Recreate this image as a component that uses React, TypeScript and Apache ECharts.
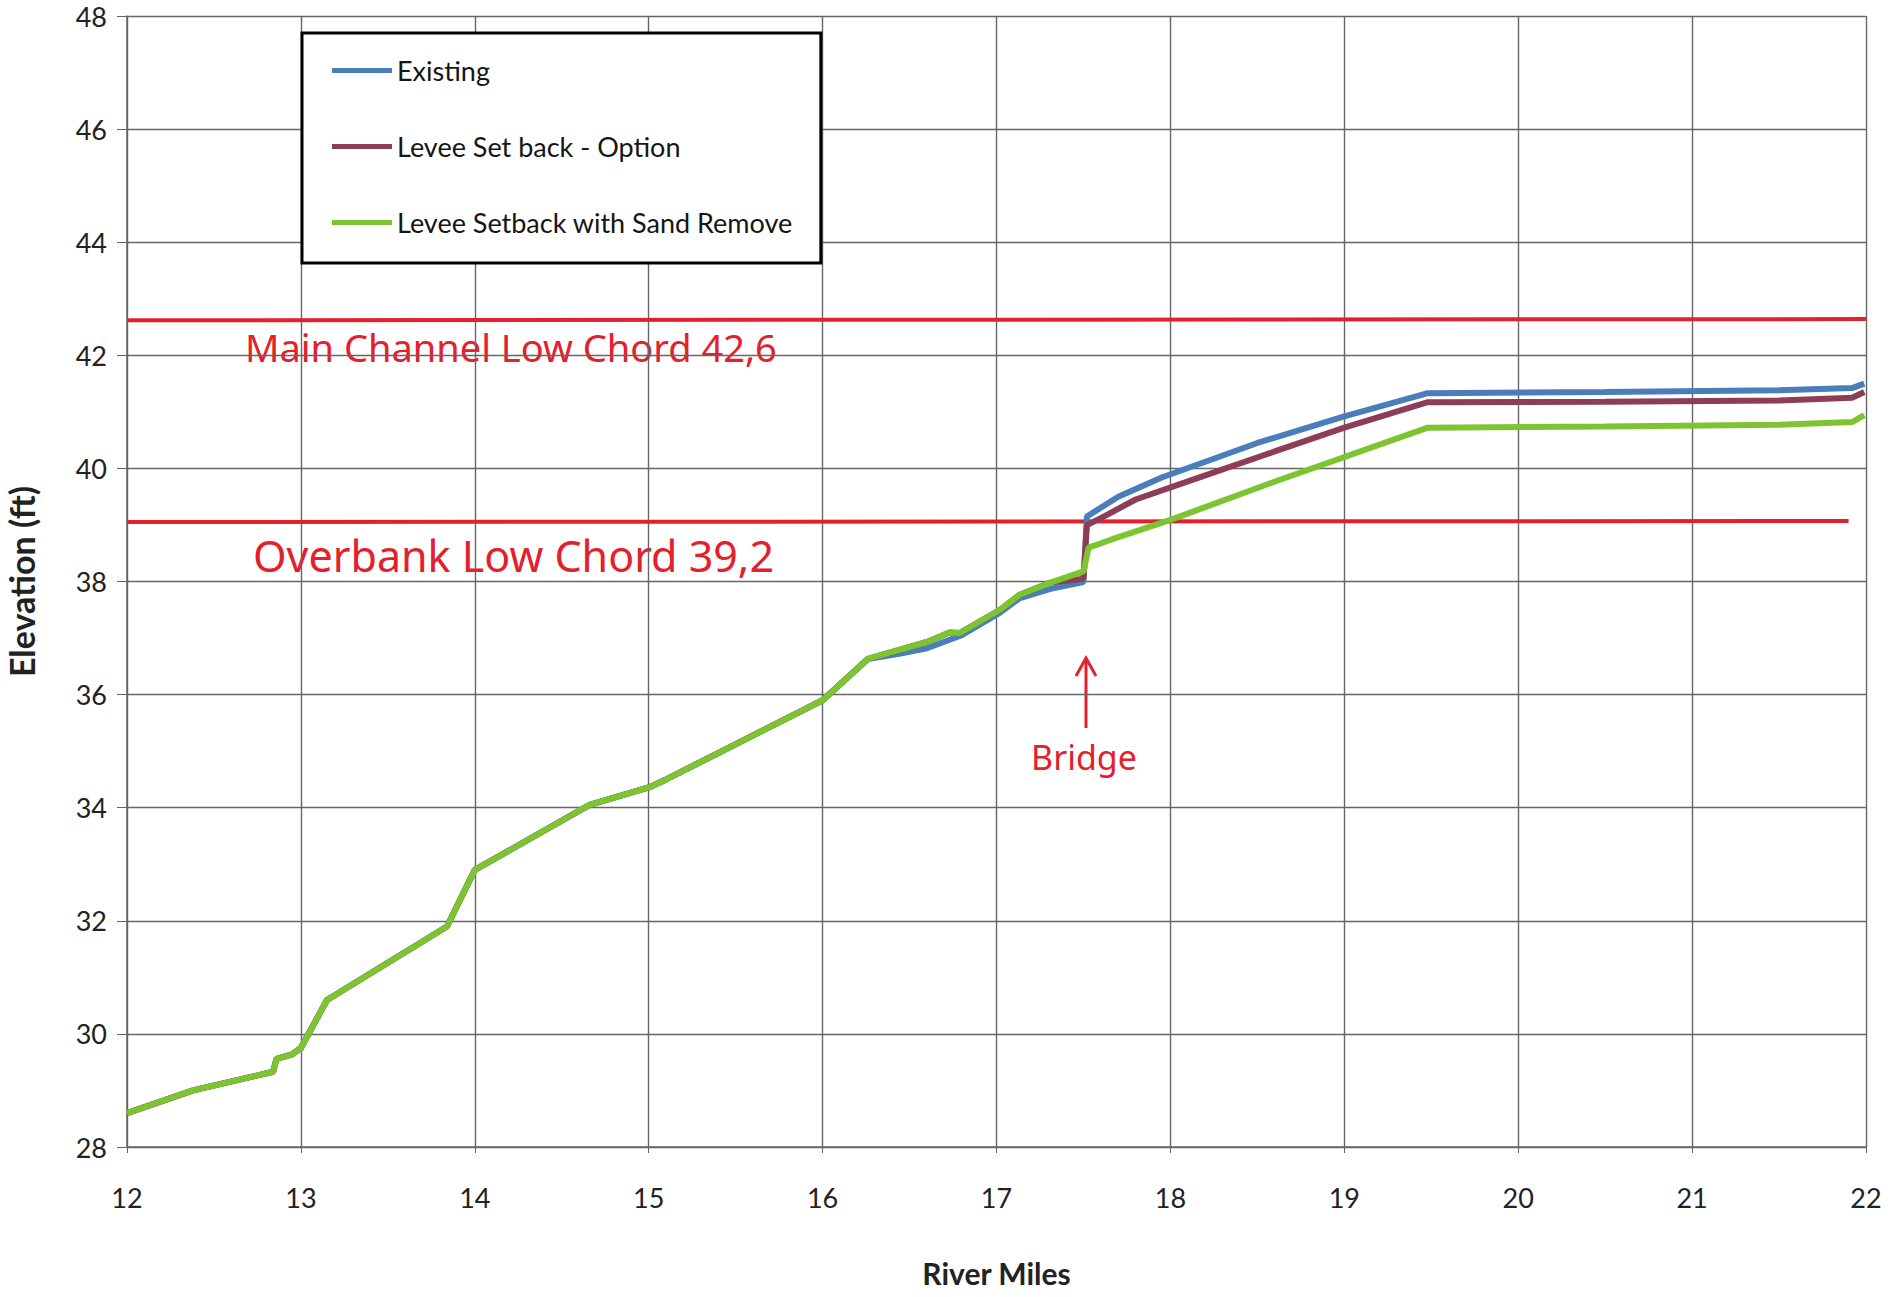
import React, { useEffect, useRef } from "react";
import * as echarts from "echarts";

// ---- Data ----
const seriesNames = ["Existing", "Levee Set back - Option", "Levee Setback with Sand Remove"];

const commonMiles = [12.0, 12.38, 12.84, 12.86, 12.95, 13.0, 13.15, 13.84, 14.0, 14.66, 15.01, 15.1, 16.0, 16.26];
const commonElev = [28.6, 29.0, 29.33, 29.56, 29.64, 29.75, 30.6, 31.9, 32.9, 34.05, 34.37, 34.5, 35.9, 36.63];

const existingMiles = [16.44, 16.6, 16.8, 17.02, 17.13, 17.31, 17.5, 17.52, 17.7, 17.95, 18.5, 19.0, 19.48, 20.5, 21.5, 21.92, 21.99];
const existingElev = [36.72, 36.82, 37.05, 37.45, 37.7, 37.87, 37.99, 39.15, 39.5, 39.84, 40.45, 40.92, 41.33, 41.35, 41.38, 41.42, 41.5];

const optionMiles = [16.44, 16.6, 16.73, 16.79, 17.02, 17.13, 17.31, 17.5, 17.52, 17.6, 17.8, 18.13, 18.6, 19.0, 19.48, 20.5, 21.5, 21.92, 21.99];
const optionElev = [36.79, 36.93, 37.1, 37.09, 37.5, 37.76, 37.98, 38.05, 39.0, 39.12, 39.45, 39.8, 40.3, 40.72, 41.17, 41.18, 41.2, 41.25, 41.35];

const sandMiles = [16.44, 16.6, 16.73, 16.79, 17.02, 17.13, 17.31, 17.5, 17.53, 17.65, 18.0, 18.63, 19.48, 20.5, 21.5, 21.92, 21.99];
const sandElev = [36.79, 36.93, 37.1, 37.09, 37.5, 37.76, 37.98, 38.18, 38.6, 38.73, 39.09, 39.8, 40.72, 40.74, 40.77, 40.82, 40.94];

const mainChordMiles = [12, 22];
const mainChordElev = [42.62, 42.64];
const overbankMiles = [12, 21.9];
const overbankElev = [39.05, 39.07];

const xTicks = { min: 12, max: 22, interval: 1 };
const yTicks = { min: 28, max: 48, interval: 2 };

const mainChordNote = "Main Channel Low Chord 42,6";
const overbankNote = "Overbank Low Chord 39,2";
const bridgeNote = "Bridge";

const zip = (xs: number[], ys: number[]) => xs.map((x, i) => [x, ys[i]]);

const FONT = "Lato, 'Open Sans', sans-serif";
const HAND = "'Noto Sans', 'DejaVu Sans', sans-serif";
const RED = "#e3202b";

export default function App() {
  const ref = useRef<HTMLDivElement>(null);

  useEffect(() => {
    if (!ref.current) return;
    const chart = echarts.init(ref.current, undefined, { renderer: "svg" });

    const lineSeries = (name: string, data: number[][], color: string, z: number) => ({
      name,
      type: "line",
      data,
      showSymbol: false,
      symbol: "none",
      z,
      lineStyle: { color, width: 6 },
      itemStyle: { color },
    });

    chart.setOption({
      animation: false,
      backgroundColor: "#ffffff",
      grid: { left: 127, top: 16, right: 29, bottom: 150, containLabel: false, outerBoundsMode: "none" },
      xAxis: {
        type: "value",
        min: xTicks.min,
        max: xTicks.max,
        interval: xTicks.interval,
        name: "River Miles",
        nameLocation: "middle",
        nameGap: 111,
        nameTextStyle: { fontFamily: FONT, fontWeight: "bold", fontSize: 30, color: "#222" },
        axisLine: { show: true, lineStyle: { color: "#666", width: 1.5 } },
        axisTick: { show: true, length: 6, lineStyle: { color: "#666" } },
        axisLabel: { fontFamily: FONT, fontSize: 27, color: "#222", margin: 37 },
        splitLine: { show: true, lineStyle: { color: "#666666", width: 1.4 } },
      },
      yAxis: {
        type: "value",
        min: yTicks.min,
        max: yTicks.max,
        interval: yTicks.interval,
        name: "Elevation (ft)",
        nameLocation: "middle",
        nameGap: 89,
        nameRotate: 90,
        nameTextStyle: { fontFamily: FONT, fontWeight: "bold", fontSize: 34, color: "#222" },
        axisLine: { show: true, lineStyle: { color: "#666", width: 1.5 } },
        axisTick: { show: true, length: 10, lineStyle: { color: "#666" } },
        axisLabel: { fontFamily: FONT, fontSize: 27, color: "#222", margin: 20 },
        splitLine: { show: true, lineStyle: { color: "#666666", width: 1.4 } },
      },
      legend: {
        data: seriesNames,
        orient: "vertical",
        left: 302,
        top: 33,
        icon: "rect",
        itemWidth: 60,
        itemHeight: 5,
        itemGap: 49,
        padding: [24, 28, 27, 30],
        borderColor: "#000",
        borderWidth: 3,
        backgroundColor: "#ffffff",
        textStyle: { fontFamily: FONT, fontSize: 27, color: "#151515" },
      },
      series: [
        {
          name: "Main Channel Low Chord",
          type: "line",
          data: zip(mainChordMiles, mainChordElev),
          showSymbol: false,
          symbol: "none",
          z: 1,
          lineStyle: { color: RED, width: 4 },
        },
        {
          name: "Overbank Low Chord",
          type: "line",
          data: zip(overbankMiles, overbankElev),
          showSymbol: false,
          symbol: "none",
          z: 1,
          lineStyle: { color: RED, width: 4 },
        },
        lineSeries(seriesNames[0], zip(commonMiles, commonElev).concat(zip(existingMiles, existingElev)), "#4a7ebb", 2),
        lineSeries(seriesNames[1], zip(commonMiles, commonElev).concat(zip(optionMiles, optionElev)), "#8e3d57", 3),
        lineSeries(seriesNames[2], zip(commonMiles, commonElev).concat(zip(sandMiles, sandElev)), "#7cc530", 4),
      ],
      graphic: [
        {
          type: "text",
          x: 245,
          y: 347,
          style: { text: mainChordNote, fontFamily: HAND, fontSize: 38, fill: RED, align: "left", verticalAlign: "middle" },
        },
        {
          type: "text",
          x: 253,
          y: 555,
          style: { text: overbankNote, fontFamily: HAND, fontSize: 43, fill: RED, align: "left", verticalAlign: "middle" },
        },
        {
          type: "line",
          shape: { x1: 1086, y1: 728, x2: 1086, y2: 660 },
          style: { stroke: RED, lineWidth: 3 },
        },
        {
          type: "polyline",
          shape: { points: [[1076, 676], [1086, 658], [1096, 676]] },
          style: { stroke: RED, lineWidth: 3, fill: null },
        },
        {
          type: "text",
          x: 1084,
          y: 757,
          style: { text: bridgeNote, fontFamily: HAND, fontSize: 34, fill: RED, align: "center", verticalAlign: "middle" },
        },
      ],
    });

    return () => chart.dispose();
  }, []);

  return (
    <div
      ref={ref}
      style={{ position: "fixed", left: 0, top: 0, width: 1895, height: 1297, background: "#fff" }}
    />
  );
}
